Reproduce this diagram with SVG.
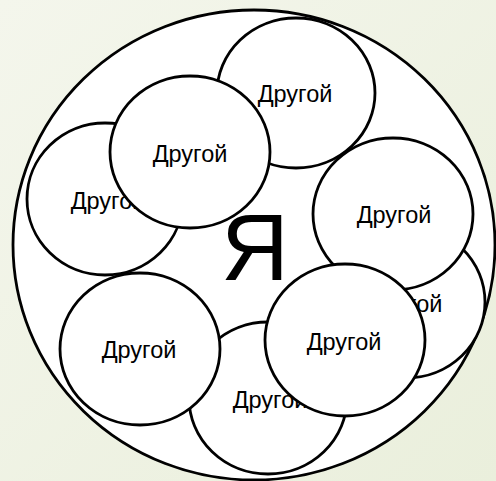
<svg xmlns="http://www.w3.org/2000/svg" width="496" height="481" viewBox="0 0 496 481">
<defs>
<linearGradient id="bg" x1="0" y1="0" x2="1" y2="1">
<stop offset="0" stop-color="#F4F6EC"/>
<stop offset="1" stop-color="#EAEFDC"/>
</linearGradient>
<style>
.c{fill:#FFFFFF;stroke:#000000;stroke-width:2.8}
.t{font-family:"Liberation Sans",Arial,sans-serif;font-size:23.5px;fill:#000000;text-anchor:middle}
.big{font-family:"Liberation Sans",Arial,sans-serif;font-size:94px;fill:#000000;text-anchor:middle}
</style>
</defs>
<rect width="496" height="481" fill="url(#bg)"/>
<g id="self">
<ellipse class="c" cx="254" cy="245" rx="241" ry="235"/>
<text class="big" x="255" y="280">Я</text>
</g>
<g id="connectors"/>
<g id="other1">
<ellipse class="c" cx="296" cy="93" rx="79" ry="75"/>
<text class="t" x="295" y="102">Другой</text>
</g>
<g id="other3">
<ellipse class="c" cx="105" cy="199" rx="78" ry="76"/>
<text class="t" x="108" y="209">Другой</text>
</g>
<g id="other2">
<ellipse class="c" cx="190" cy="152" rx="80" ry="76"/>
<text class="t" x="190" y="162">Другой</text>
</g>
<g id="other5">
<ellipse class="c" cx="406" cy="302" rx="79" ry="76"/>
<text class="t" x="405" y="312">Другой</text>
</g>
<g id="other4">
<ellipse class="c" cx="393" cy="214" rx="80" ry="76"/>
<text class="t" x="394" y="223">Другой</text>
</g>
<g id="other7">
<ellipse class="c" cx="268" cy="398" rx="79" ry="76"/>
<text class="t" x="270" y="408">Другой</text>
</g>
<g id="other8">
<ellipse class="c" cx="140" cy="349" rx="80" ry="76"/>
<text class="t" x="139" y="358">Другой</text>
</g>
<g id="other6">
<ellipse class="c" cx="345" cy="340" rx="80" ry="76"/>
<text class="t" x="344" y="350">Другой</text>
</g>
</svg>
